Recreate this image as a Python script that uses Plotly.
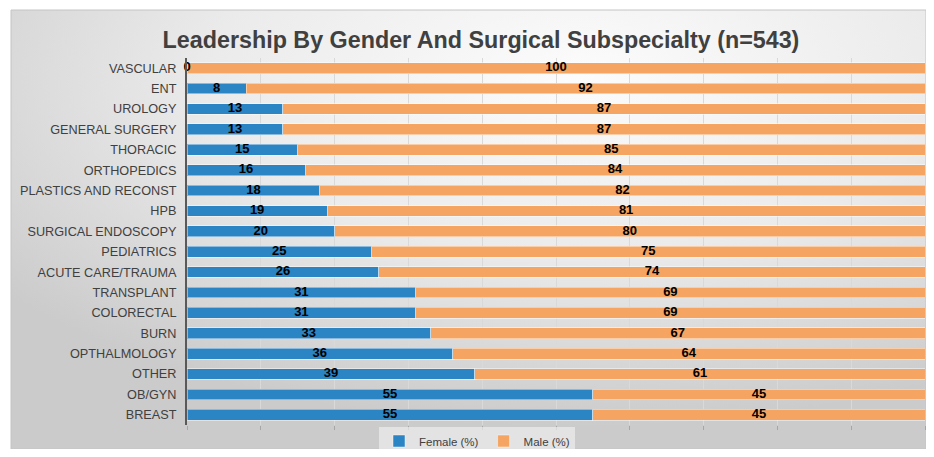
import base64
import plotly.graph_objects as go

categorias = ["VASCULAR", "ENT", "UROLOGY", "GENERAL SURGERY", "THORACIC", "ORTHOPEDICS",
              "PLASTICS AND RECONST", "HPB", "SURGICAL ENDOSCOPY", "PEDIATRICS",
              "ACUTE CARE/TRAUMA", "TRANSPLANT", "COLORECTAL", "BURN", "OPTHALMOLOGY",
              "OTHER", "OB/GYN", "BREAST"]
female = [0, 8, 13, 13, 15, 16, 18, 19, 20, 25, 26, 31, 31, 33, 36, 39, 55, 55]
male = [100, 92, 87, 87, 85, 84, 82, 81, 80, 75, 74, 69, 69, 67, 64, 61, 45, 45]

AZUL = "#2b84c3"
NARANJA = "#f5a461"
FUENTE = "Liberation Sans, Arial, sans-serif"

# la pagina tiene 8px de margen en body, asi que la figura es 918x441
W, H = 918, 441
L, R, T, B = 179, 1, 50, 24
pw, ph = W - L - R, H - T - B

# fondo degradado tipo Excel
svg = """<svg xmlns='http://www.w3.org/2000/svg' width='916' height='447' preserveAspectRatio='none'>
<defs><radialGradient id='g' cx='0.62' cy='0.15' r='0.8'>
<stop offset='0' stop-color='#fcfcfc'/><stop offset='0.5' stop-color='#ebebeb'/>
<stop offset='1' stop-color='#cbcbcb'/></radialGradient></defs>
<rect width='916' height='447' fill='url(#g)'/></svg>"""
fondo = "data:image/svg+xml;base64," + base64.b64encode(svg.encode()).decode()

fig = go.Figure()
fig.add_trace(go.Bar(
    y=categorias, x=female, orientation="h", name="Female (%)",
    marker=dict(color=AZUL, line=dict(color="rgba(255,255,255,0.45)", width=1))
))
fig.add_trace(go.Bar(
    y=categorias, x=male, orientation="h", name="Male (%)",
    marker=dict(color=NARANJA, line=dict(color="rgba(255,255,255,0.45)", width=1))
))

# etiquetas al centro de cada segmento
fig.add_trace(go.Scatter(
    y=categorias, x=[f / 2 for f in female], mode="text", cliponaxis=False,
    text=[str(f) for f in female], showlegend=False, hoverinfo="skip",
    textfont=dict(family=FUENTE, size=13, color="black", weight="bold")
))
fig.add_trace(go.Scatter(
    y=categorias, x=[f + m / 2 for f, m in zip(female, male)], mode="text", cliponaxis=False,
    text=[str(m) for m in male], showlegend=False, hoverinfo="skip",
    textfont=dict(family=FUENTE, size=13, color="black", weight="bold")
))

x0, x1 = (3 - L) / pw, (W - L) / pw
y0, y1 = (ph + T - H) / ph, 1 + (T - 2) / ph

fig.update_layout(
    width=W, height=H,
    barmode="stack", bargap=0.47,
    paper_bgcolor="white", plot_bgcolor="rgba(0,0,0,0)",
    margin=dict(l=L, r=R, t=T, b=B, autoexpand=False),
    font=dict(family=FUENTE, size=12.7, color="#404040"),
    title=dict(text="<b>Leadership By Gender And Surgical Subspecialty (n=543)</b>",
               x=473 / W, xref="container", y=1 - 32 / H, yanchor="middle",
               font=dict(size=23.3, color="#404040")),
    xaxis=dict(range=[0, 100], dtick=10, showticklabels=False, ticks="outside",
               ticklen=4, tickcolor="#a6a6a6", gridcolor="#d9d9d9", zeroline=False,
               fixedrange=True),
    yaxis=dict(range=[len(categorias) - 0.5, -0.5], showline=True, linecolor="#595959",
               linewidth=2, ticks="", ticklabelstandoff=6,
               tickfont=dict(size=12.7, color="#404040")),
    legend=dict(orientation="h", xref="container", yref="container", traceorder="normal",
                x=469 / W, xanchor="center", y=1 - 433 / H, yanchor="middle",
                bgcolor="rgba(236,236,236,0.7)", font=dict(size=11.5, color="#404040"),
                itemwidth=30, tracegroupgap=0),
    images=[dict(source=fondo, xref="paper", yref="paper",
                 x=x0, y=y1, sizex=x1 - x0, sizey=y1 - y0,
                 sizing="stretch", layer="below")],
    shapes=[dict(type="rect", xref="paper", yref="paper",
                 x0=x0, x1=x1, y0=y0, y1=y1,
                 line=dict(color="#c4c4c4", width=1), layer="below")],
)

fig.write_html("out.html")
